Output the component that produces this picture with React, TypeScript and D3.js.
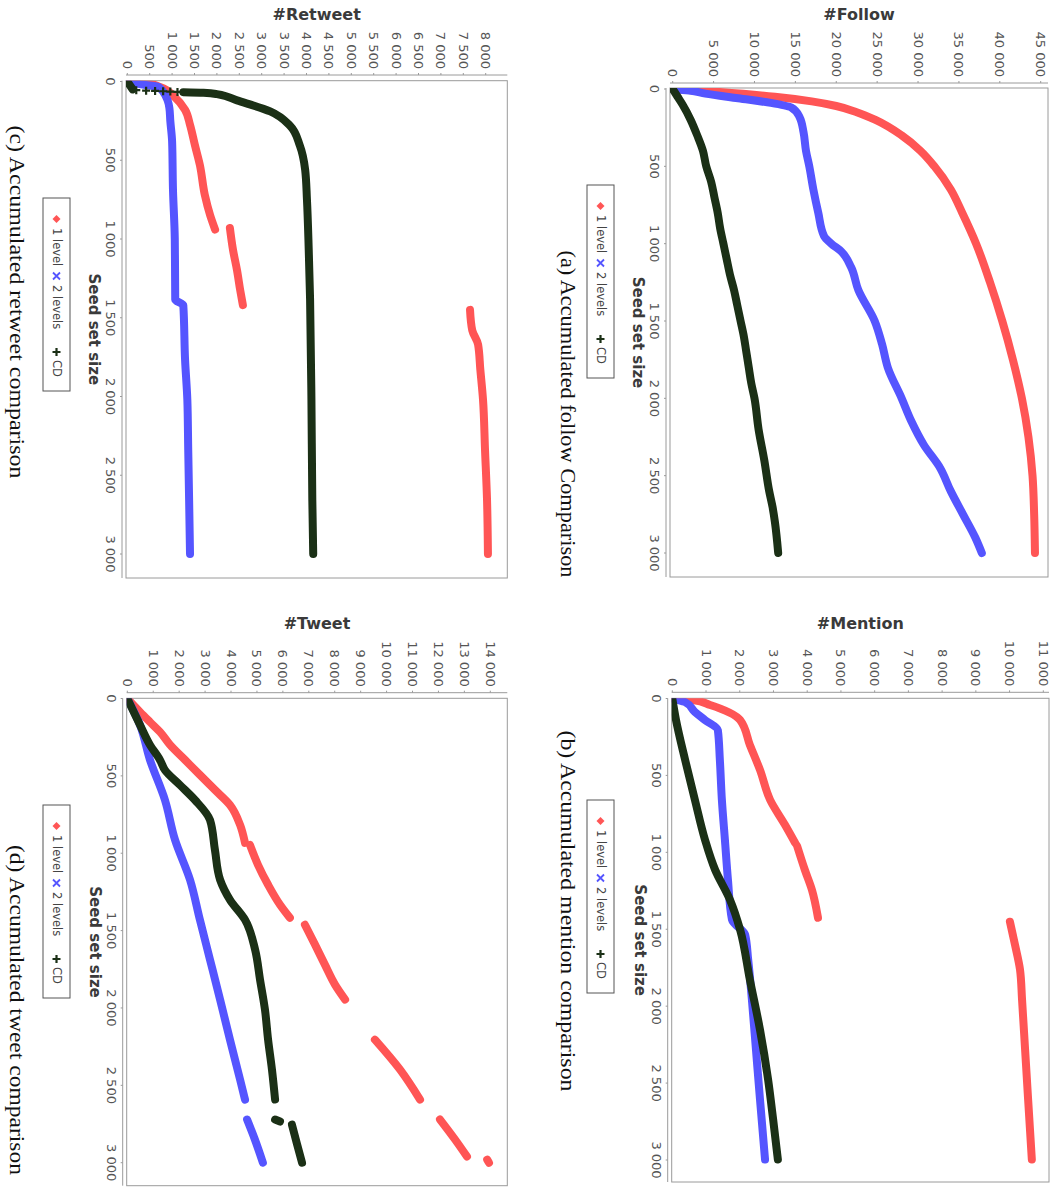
import React from "react";
import * as d3 from "d3";

type P = [number, number];

// ---------- tick values ----------
const seedTicks = [0, 500, 1000, 1500, 2000, 2500, 3000];
const followTicks = [0, 5000, 10000, 15000, 20000, 25000, 30000, 35000, 40000, 45000];
const mentionTicks = [0, 1000, 2000, 3000, 4000, 5000, 6000, 7000, 8000, 9000, 10000, 11000];
const retweetTicks = [0, 500, 1000, 1500, 2000, 2500, 3000, 3500, 4000, 4500, 5000, 5500, 6000, 6500, 7000, 7500, 8000];
const tweetTicks = [0, 1000, 2000, 3000, 4000, 5000, 6000, 7000, 8000, 9000, 10000, 11000, 12000, 13000, 14000];

const seriesNames = ["1 level", "2 levels", "CD"];
const seriesColors = ["#ff5555", "#5555ff", "#1b3016"];

// ---------- data: [seed set size, value], split in segments where the series has gaps ----------
const followLevel1: P[][] = [[
  [0, 0], [20, 5700], [50, 12500], [80, 17000], [110, 20000], [150, 22500], [200, 24800], [300, 28000], [400, 30300],
  [500, 32000], [650, 34000], [800, 35400], [1000, 37100], [1250, 38800], [1500, 40300], [1750, 41600],
  [2000, 42700], [2250, 43500], [2500, 44000], [2750, 44200], [3000, 44300],
]];
const followLevel2: P[][] = [[
  [0, 0], [10, 2000], [30, 4000], [60, 8000], [90, 12000], [120, 14500], [180, 15500], [280, 16000],
  [400, 16300], [500, 16700], [650, 17200], [800, 17800], [950, 18500], [1000, 19400], [1050, 20600],
  [1150, 21800], [1300, 22700], [1500, 24700], [1650, 25600], [1800, 26300], [2000, 28000], [2150, 29200],
  [2300, 30700], [2450, 32700], [2600, 34000], [2750, 35500], [2900, 37000], [3000, 37800],
]];
const followCD: P[][] = [[
  [0, 0], [50, 600], [100, 1200], [200, 2200], [300, 3000], [400, 3700], [500, 4100], [600, 4700],
  [700, 5100], [800, 5500], [900, 5800], [1000, 6200], [1100, 6600], [1200, 7000], [1300, 7500],
  [1400, 7900], [1500, 8300], [1600, 8700], [1700, 9000], [1800, 9300], [1900, 9600], [2000, 10000],
  [2200, 10500], [2400, 11200], [2600, 11800], [2700, 12200], [2800, 12500], [3000, 12900],
]];

const mentionLevel1: P[][] = [
  [[0, 0], [10, 610], [42, 1120], [140, 2010], [302, 2300], [464, 2600], [659, 2900], [821, 3340], [938, 3640]],
  [[958, 3700], [1114, 3930], [1244, 4140], [1425, 4320]],
  [[1451, 10010], [1600, 10160], [1763, 10310], [1958, 10370], [2282, 10460], [2607, 10550], [2997, 10660]],
];
const mentionLevel2: P[][] = [[
  [0, 0], [23, 375], [88, 670], [140, 970], [205, 1350], [399, 1410], [659, 1470], [919, 1560],
  [1179, 1650], [1438, 1770], [1536, 2160], [1698, 2250], [1958, 2360], [2282, 2480], [2607, 2600], [2997, 2750],
]];
const mentionCD: P[][] = [[
  [0, 0], [140, 110], [399, 380], [659, 670], [919, 970], [1114, 1270], [1308, 1710], [1503, 2010],
  [1828, 2300], [2153, 2600], [2477, 2840], [2737, 2990], [2997, 3130],
]];

const retweetLevel1: P[][] = [
  [[0, 0], [15, 500], [35, 730], [100, 1060], [180, 1290], [275, 1400], [405, 1510], [530, 1620], [720, 1730], [850, 1850], [940, 1960]],
  [[930, 2290], [1070, 2360], [1200, 2450], [1325, 2520], [1420, 2580]],
  [[1450, 7650], [1580, 7700], [1670, 7830], [1830, 7880], [2020, 7940], [2340, 7985], [2660, 8030], [3000, 8050]],
];
const retweetLevel2: P[][] = [[
  [0, 0], [20, 350], [35, 700], [120, 900], [170, 940], [250, 960], [380, 1000], [690, 1020], [1000, 1060],
  [1385, 1070], [1420, 1250], [1770, 1290], [2020, 1340], [2340, 1360], [2660, 1380], [3000, 1400],
]];
// isolated "+" marks where CD jumps between consecutive seeds
const retweetCDSparse: P[] = [[55, 200], [58, 420], [60, 620], [62, 800], [64, 960], [66, 1120]];
const retweetCD: P[][] = [
  [[0, 0], [50, 120]],
  [[68, 1250], [72, 1700], [80, 2000], [120, 2450], [190, 3190], [280, 3630], [405, 3850], [560, 3970],
   [750, 4010], [1070, 4050], [1385, 4080], [2020, 4110], [2660, 4130], [3000, 4150]],
];

const tweetLevel1: P[][] = [
  [[0, 0], [87, 490], [152, 875], [216, 1260], [300, 1650], [397, 2225], [494, 2800], [591, 3380], [688, 3960], [817, 4350], [933, 4540]],
  [[946, 4730], [1075, 5040], [1204, 5430], [1333, 5890], [1417, 6270]],
  [[1462, 6850], [1591, 7240], [1720, 7620], [1849, 8010], [1946, 8400]],
  [[2205, 9550], [2399, 10520], [2592, 11290]],
  [[2721, 12060], [2850, 12640], [2960, 13100]],
  [[2980, 13880], [3000, 13950]],
];
const tweetLevel2: P[][] = [
  [[0, 0], [171, 490], [397, 875], [655, 1450], [913, 1840], [1172, 2420], [1430, 2800], [1688, 3190], [1947, 3580], [2205, 3960], [2463, 4350], [2592, 4540]],
  [[2721, 4620], [2850, 4920], [3000, 5230]],
];
const tweetCD: P[][] = [
  [[0, 0], [171, 490], [300, 875], [397, 1260], [462, 1450], [559, 2030], [656, 2610], [785, 3190], [979, 3380], [1172, 3580],
   [1301, 3960], [1430, 4540], [1624, 4930], [1818, 5120], [2012, 5310], [2205, 5430], [2399, 5580], [2592, 5700]],
  [[2721, 5700], [2734, 5890]],
  [[2754, 6350], [2883, 6550], [3000, 6740]],
];

// ---------- layout (drawn in the unrotated frame, then turned 90° clockwise) ----------
type Panel = {
  title: string; caption: string; captionLen: number;
  ticks: number[]; vmax: number; series: P[][][]; sparse: P[][];
  x0: number; x1: number; y0: number; y1: number;
  s0: number; s1: number; v0: number; v1: number;
  vAxisX: number; titleX: number; legendX: number; legendY: number;
  captionX: number; captionY: number;
};

const panels: Panel[] = [
  {
    title: "#Follow", caption: "(a) Accumulated follow Comparison", captionLen: 327,
    ticks: followTicks, vmax: 45000, series: [followLevel1, followLevel2, followCD], sparse: [[], [], []],
    x0: 88, x1: 577, y0: 9, y1: 387, s0: 89, s1: 553, v0: 384.3, v1: 16.3,
    vAxisX: 83, titleX: 14, legendX: 185, legendY: 443, captionX: 414, captionY: 496,
  },
  {
    title: "#Mention", caption: "(b) Accumulated mention comparison", captionLen: 361,
    ticks: mentionTicks, vmax: 11000, series: [mentionLevel1, mentionLevel2, mentionCD], sparse: [[], [], []],
    x0: 698.3, x1: 1182, y0: 8, y1: 385.3, s0: 698.5, s1: 1160, v0: 384.7, v1: 13.7,
    vAxisX: 692.3, titleX: 623, legendX: 800, legendY: 443, captionX: 911, captionY: 496,
  },
  {
    title: "#Retweet", caption: "(c) Accumulated retweet comparison", captionLen: 353,
    ticks: retweetTicks, vmax: 8000, series: [retweetLevel1, retweetLevel2, retweetCD], sparse: [[], [], retweetCDSparse],
    x0: 80.7, x1: 578, y0: 549.7, y1: 931, s0: 81.5, s1: 554, v0: 929.7, v1: 571.3,
    vAxisX: 75, titleX: 14, legendX: 198, legendY: 987, captionX: 302, captionY: 1047,
  },
  {
    title: "#Tweet", caption: "(d) Accumulated tweet comparison", captionLen: 330,
    ticks: tweetTicks, vmax: 14000, series: [tweetLevel1, tweetLevel2, tweetCD], sparse: [[], [], []],
    x0: 698.3, x1: 1185.7, y0: 549.7, y1: 930.3, s0: 698.5, s1: 1162.7, v0: 929.7, v1: 566.7,
    vAxisX: 692.7, titleX: 623, legendX: 805, legendY: 987, captionX: 1010, captionY: 1047,
  },
];

const fmt = d3.formatLocale({ decimal: ",", thousands: "\u00a0", grouping: [3], currency: ["", ""] }).format(",");
const SANS = "'DejaVu Sans', sans-serif";

function Marker({ kind, x, y, color, r = 4 }: { kind: number; x: number; y: number; color: string; r?: number }) {
  if (kind === 0) {
    return <path d={`M${x},${y - r}L${x + r},${y}L${x},${y + r}L${x - r},${y}Z`} fill={color} />;
  }
  if (kind === 1) {
    const q = r * 0.875;
    return <path d={`M${x - q},${y - q}L${x + q},${y + q}M${x - q},${y + q}L${x + q},${y - q}`} stroke={color} strokeWidth={1.8} />;
  }
  return <path d={`M${x - r},${y}L${x + r},${y}M${x},${y - r}L${x},${y + r}`} stroke={color} strokeWidth={2.2} />;
}

function ChartPanel({ p, idx }: { p: Panel; idx: number }) {
  const sx = d3.scaleLinear().domain([0, 3000]).range([p.s0, p.s1]);
  const sy = d3.scaleLinear().domain([0, p.vmax]).range([p.v0, p.v1]);
  const line = d3.line<P>().x((d) => sx(d[0])).y((d) => sy(d[1])).curve(d3.curveMonotoneX);
  const sAxisY = p.y1 + 4;
  const clipId = `clip${idx}`;
  const midX = (p.x0 + p.x1) / 2;
  const midY = (p.y0 + p.y1) / 2;
  const legendItems = [
    { marker: 21, text: 30 },
    { marker: 78, text: 87 },
    { marker: 154, text: 162 },
  ];
  return (
    <g>
      <defs>
        <clipPath id={clipId}>
          <rect x={p.x0} y={p.y0} width={p.x1 - p.x0} height={p.y1 - p.y0} />
        </clipPath>
      </defs>
      <rect x={p.x0} y={p.y0} width={p.x1 - p.x0} height={p.y1 - p.y0} fill="#ffffff" stroke="#9a9a9a" strokeWidth={1} />
      <g clipPath={`url(#${clipId})`}>
        {p.series.map((segs, si) => (
          <g key={si}>
            {segs.map((seg, gi) => (
              <path key={gi} d={line(seg) || ""} fill="none" stroke={seriesColors[si]}
                strokeWidth={8} strokeLinejoin="round" strokeLinecap="round" />
            ))}
            {p.sparse[si].map((d, k) => (
              <Marker key={`m${k}`} kind={si} x={sx(d[0])} y={sy(d[1])} color={seriesColors[si]} r={4} />
            ))}
          </g>
        ))}
      </g>
      {/* value axis */}
      <line x1={p.vAxisX} x2={p.vAxisX} y1={p.y0} y2={p.y1} stroke="#9a9a9a" />
      {p.ticks.map((t) => (
        <g key={t}>
          <line x1={p.vAxisX - 2} x2={p.vAxisX} y1={sy(t)} y2={sy(t)} stroke="#9a9a9a" />
          <text x={p.vAxisX - 6} y={sy(t)} textAnchor="end" dominantBaseline="central"
            fontFamily={SANS} fontSize={13} fill="#555">{fmt(t)}</text>
        </g>
      ))}
      {/* seed axis */}
      <line x1={p.x0} x2={p.x1} y1={sAxisY} y2={sAxisY} stroke="#9a9a9a" />
      {seedTicks.map((t) => (
        <g key={t}>
          <line x1={sx(t)} x2={sx(t)} y1={sAxisY} y2={sAxisY + 2} stroke="#9a9a9a" />
          <text x={sx(t)} y={sAxisY + 16} textAnchor="middle" fontFamily={SANS} fontSize={13} fill="#555">{fmt(t)}</text>
        </g>
      ))}
      <text transform={`translate(${p.titleX},${midY}) rotate(-90)`} textAnchor="middle" dominantBaseline="central"
        fontFamily={SANS} fontWeight="bold" fontSize={16} fill="#3a3a3a">{p.title}</text>
      <text x={midX} y={p.y1 + 37} textAnchor="middle" fontFamily={SANS} fontWeight="bold" fontSize={15} fill="#3a3a3a">
        Seed set size
      </text>
      {/* legend */}
      <rect x={p.legendX} y={p.legendY} width={193} height={27} fill="#fff" stroke="#555" strokeWidth={1} />
      {legendItems.map((it, i) => (
        <g key={i}>
          <Marker kind={i} x={p.legendX + it.marker} y={p.legendY + 13.5} color={seriesColors[i]} />
          <text x={p.legendX + it.text} y={p.legendY + 13.5} dominantBaseline="central" fontFamily={SANS}
            fontSize={11.5} fill="#444">{seriesNames[i]}</text>
        </g>
      ))}
      <text x={p.captionX} y={p.captionY} textAnchor="middle" fontFamily="'Liberation Serif', serif" fontSize={22}
        fill="#111" textLength={p.captionLen} lengthAdjust="spacingAndGlyphs">{p.caption}</text>
    </g>
  );
}

export default function App() {
  return (
    <svg width={1057} height={1187} style={{ position: "absolute", left: 0, top: 0, background: "#fff" }}>
      <rect x={0} y={0} width={1057} height={1187} fill="#fff" />
      <g transform="translate(1057,0) rotate(90)">
        {panels.map((p, i) => (
          <ChartPanel key={p.title} p={p} idx={i} />
        ))}
      </g>
    </svg>
  );
}
